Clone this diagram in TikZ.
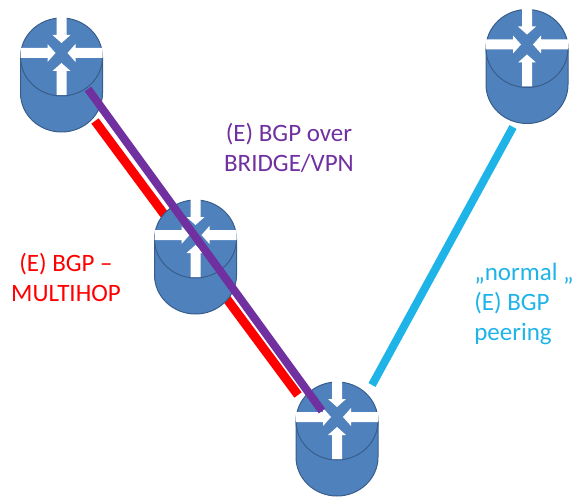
\documentclass[tikz,border=0pt]{standalone}
\usepackage{fontspec}
\setmainfont{Carlito}
\usepackage{tikz}
\usetikzlibrary{positioning}
\definecolor{routerfill}{HTML}{4F81BD}
\definecolor{routerline}{HTML}{385D8A}
\definecolor{bgpred}{HTML}{FF0000}
\definecolor{bgppurple}{HTML}{7030A0}
\definecolor{bgpblue}{HTML}{1FB4E8}
\tikzstyle{router}=[minimum width=84pt, minimum height=116pt, inner sep=0pt, path picture={
  \fill[routerfill,draw=routerline,line width=1pt] (-41,18) arc[x radius=41, y radius=39, start angle=180, end angle=0] -- (41,-18) arc[x radius=41, y radius=39, start angle=0, end angle=-180] -- cycle;
  \draw[routerline,line width=1pt] (-41,18) arc[x radius=41, y radius=39, start angle=180, end angle=360];
  \fill[white] (-41,17) -- (-14,17) -- (-14,13) -- (-6,22) -- (-14,31) -- (-14,27) -- (-41,27) -- cycle;
  \fill[white] (41,17) -- (14,17) -- (14,13) -- (6,22) -- (14,31) -- (14,27) -- (41,27) -- cycle;
  \fill[white] (-5,58) -- (-5,40) -- (-9,40) -- (0,32) -- (9,40) -- (5,40) -- (5,58) -- cycle;
  \fill[white] (-5,-20) -- (-5,4) -- (-9,4) -- (0,12) -- (9,4) -- (5,4) -- (5,-20) -- cycle;
  }]
\tikzstyle{redlink}=[bgpred, line width=9pt]
\tikzstyle{purplelink}=[bgppurple, line width=8pt]
\tikzstyle{bluelink}=[bgpblue, line width=8pt]
\tikzstyle{lbl}=[inner sep=0pt, align=center, font=\fontsize{25}{30}\selectfont]

\begin{document}
\begin{tikzpicture}[x=1pt,y=1pt]
\useasboundingbox (0,0) rectangle (580,496);

\coordinate (rs) at (95,375);
\coordinate (re) at (298,101);
\coordinate (ps) at (88,407);
\coordinate (pe) at (322,85);
\coordinate (bs) at (372,111);
\coordinate (be) at (513,369);

\draw[redlink] (rs) -- (re);

\node[router] (r1) at (61.5,421) {};
\node[router] (r2) at (195.5,239) {};
\node[router] (r3) at (337,57) {};
\node[router] (r4) at (527,429.5) {};

\draw[purplelink] (ps) -- (pe);
\draw[bluelink] (bs) -- (be);

\node[lbl,text=bgppurple] (tp) at (289,348) {(E) BGP over\\BRIDGE/VPN};
\node[lbl,text=bgpred] (tr) at (66,219) {(E) BGP --\\MULTIHOP};
\node[lbl,text=bgpblue,align=left] (tb) at (524,192.5) {„normal „\\(E) BGP\\peering};

\end{tikzpicture}
\end{document}
